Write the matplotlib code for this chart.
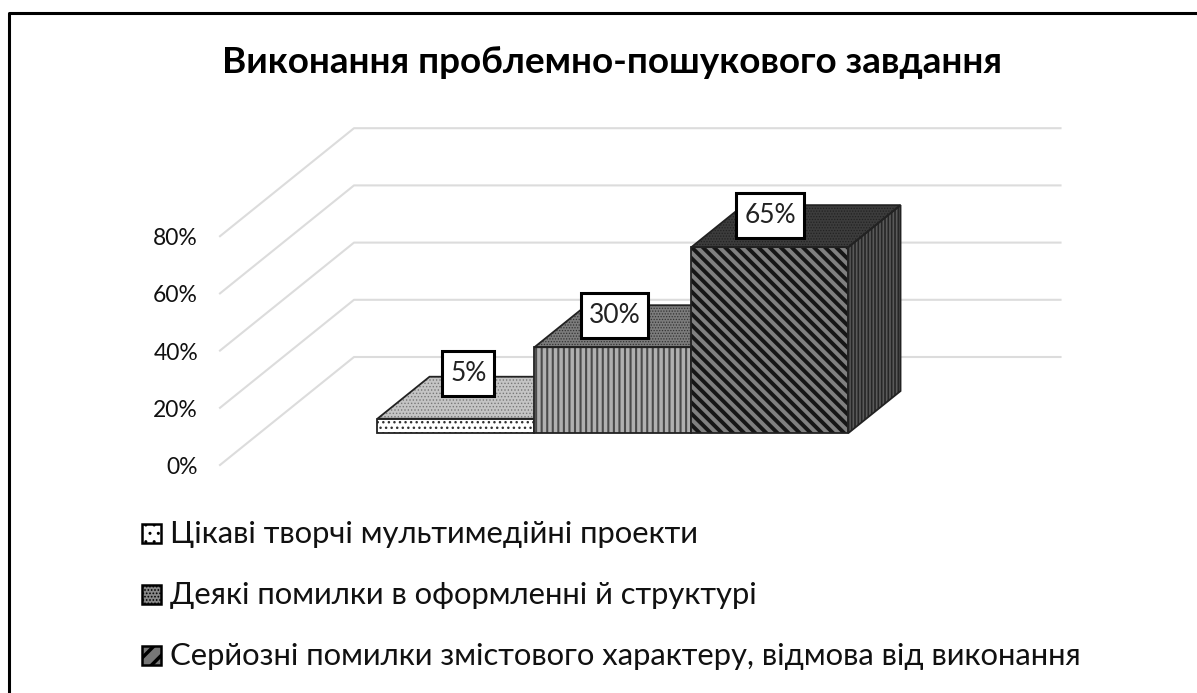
import matplotlib
matplotlib.use("Agg")
import matplotlib.pyplot as plt
from matplotlib.patches import Polygon, Rectangle

plt.rcParams['font.family'] = ['Lato', 'DejaVu Sans']

title = "Виконання проблемно-пошукового завдання"
categories = ["Цікаві творчі мультимедійні проекти",
              "Деякі помилки в оформленні й структурі",
              "Серйозні помилки змістового характеру, відмова від виконання"]
values = [5, 30, 65]
value_labels = ["5%", "30%", "65%"]
y_ticks = [0, 20, 40, 60, 80]
y_tick_labels = ["0%", "20%", "40%", "60%", "80%"]

W, H = 1197, 693
PX_X = 157     # px per category
PX_Y = 2.86    # px per percent
X0, Y0 = 220, 465
DEPTH_X, DEPTH_Y = 134, 108
BAR_D0, BAR_D1 = 0.296, 0.685
X_MAX = 4.5
X_FIRST = 1.25  # centre of the first bar


def proj(x, y, d=0.0):
    """category/percent/depth to data coordinates on the flat axes"""
    return x + d * DEPTH_X / PX_X, y + d * DEPTH_Y / PX_Y


fig = plt.figure(figsize=(W / 100, H / 100), dpi=100)
ax = fig.add_axes([0, 0, 1, 1])
ax.set_xlim(-X0 / PX_X, (W - X0) / PX_X)
ax.set_ylim((Y0 - H) / PX_Y, Y0 / PX_Y)
ax.axis('off')

# only top and left of the frame are in the picture
fig.add_artist(plt.Line2D([8.5 / W, 8.5 / W, 1], [0, 1 - 12.5 / H, 1 - 12.5 / H],
                          transform=fig.transFigure, color='black', lw=2.2))

# walls
for t, lab in zip(y_ticks, y_tick_labels):
    xs, ys = zip(proj(0, t), proj(0, t, 1), proj(X_MAX, t, 1))
    ax.plot(xs, ys, color='#dcdcdc', lw=1.5, zorder=1)
    ax.annotate(lab, proj(0, t), xytext=(-22 * 0.72, -9 * 0.72), textcoords='offset points',
                ha='right', va='baseline', fontsize=16.5, color='#111111')

# (face, hatch colour, hatch, hatch width)
styles = [
    dict(front=('white', '#333333', '...', 1.0), top=('#c4c4c4', '#777777', '.....', 0.6)),
    dict(front=('#b0b0b0', '#4a4a4a', '|||', 1.5), top=('#7c7c7c', '#333333', '......', 0.6)),
    dict(front=('#808080', '#161616', '\\\\\\', 2.8), top=('#3c3c3c', '#222222', '......', 0.6),
         side=('#5a5a5a', '#262626', '|||||', 1.2)),
]

for i, (v, st) in enumerate(zip(values, styles)):
    x0 = i + X_FIRST - 0.5
    x1 = x0 + 1
    z = 3 + i
    front = [proj(x0, 0, BAR_D0), proj(x1, 0, BAR_D0), proj(x1, v, BAR_D0), proj(x0, v, BAR_D0)]
    top = [proj(x0, v, BAR_D0), proj(x1, v, BAR_D0), proj(x1, v, BAR_D1), proj(x0, v, BAR_D1)]
    side = [proj(x1, 0, BAR_D0), proj(x1, 0, BAR_D1), proj(x1, v, BAR_D1), proj(x1, v, BAR_D0)]
    faces = [(top, st['top']), (front, st['front'])]
    if 'side' in st:
        faces.insert(0, (side, st['side']))
    for pts, (fc, hc, hatch, hlw) in faces:
        plt.rcParams['hatch.linewidth'] = hlw
        ax.add_patch(Polygon(pts, closed=True, fc=fc, ec=hc, hatch=hatch, lw=0, zorder=z))
        ax.add_patch(Polygon(pts, closed=True, fill=False, ec='#222222', lw=1.3, zorder=z + 0.1))

# value labels, offset from the front top edge in px
label_dx = [12.5, 1.5, 0.5]
label_dy = [45.5, 31.5, 31.5]
label_w = [52, 67, 68]
for i, (v, lab) in enumerate(zip(values, value_labels)):
    cx, cy = proj(i + X_FIRST, v, BAR_D0)
    cx += label_dx[i] / PX_X
    cy += label_dy[i] / PX_Y
    bw, bh = label_w[i] / PX_X, 45 / PX_Y
    ax.add_patch(Rectangle((cx - bw / 2, cy - bh / 2), bw, bh, fc='white', ec='black', lw=2.2, zorder=20))
    ax.text(cx, cy, lab, ha='center', va='center', fontsize=19, color='#222222', zorder=21)

fig.text(612 / W, 1 - 73 / H, title, ha='center', va='baseline', fontsize=26.6,
         fontweight='bold', color='black')

# legend, written by hand so it stays left aligned in one column
legend_y = [533, 594, 655]
legend_hatch = [('white', '#222222', '..', 1.0), ('#888888', '#111111', '.....', 0.8), ('#777777', '#111111', '//', 2.5)]
for lab, py, (fc, hc, hatch, hlw) in zip(categories, legend_y, legend_hatch):
    plt.rcParams['hatch.linewidth'] = hlw
    fig.add_artist(Rectangle((142 / W, 1 - (py + 9.5) / H), 19 / W, 19 / H, transform=fig.transFigure,
                             fc=fc, ec='black', hatch=hatch, lw=1.8))
    fig.text(170 / W, 1 - (py + 10) / H, lab, ha='left', va='baseline', fontsize=22.35, color='#111111')

fig.savefig("out.png", dpi=100)
